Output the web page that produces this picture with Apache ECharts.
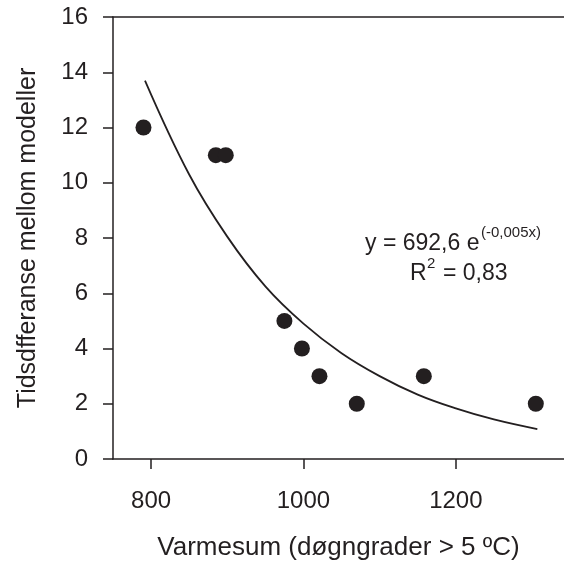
<!DOCTYPE html>
<html>
<head>
<meta charset="utf-8">
<title>Varmesum</title>
<script src="https://cdn.jsdelivr.net/npm/echarts@6/dist/echarts.min.js"></script>
<style>
	html,body{margin:0;padding:0;background:#fff;}
	#main{width:564px;height:563px;}
</style>
</head>
<body>
<div id="main"></div>
<script>
	// punkter (varmesum, tidsdifferanse)
	var pointX = [790, 885, 898, 975, 998, 1021, 1070, 1158, 1305];
	var pointY = [12, 11, 11, 5, 4, 3, 2, 3, 2];

	// kurven lest av figuren
	var curveX = [792, 850, 900, 950, 1000, 1050, 1100, 1150, 1200, 1250, 1307];
	var curveY = [13.7, 10.3, 8.05, 6.25, 4.9, 3.83, 3.0, 2.33, 1.83, 1.43, 1.08];

	var xTicks = [800, 1000, 1200];
	var yTicks = [0, 2, 4, 6, 8, 10, 12, 14, 16];

	var ink = '#231f20';
	var font = '"Liberation Sans", Arial, sans-serif';

	function pairs(xs, ys){
		var out = [];
		for(var i=0;i<xs.length;i++){
			out.push([xs[i], ys[i]]);
		}
		return out;
	}

	var chart = echarts.init(document.getElementById('main'));
	var option = {
		animation: false,
		backgroundColor: '#fff',
		grid: {
			left: 113,
			top: 17,
			right: 0,
			bottom: 104,
			outerBoundsMode: 'none'
		},
		xAxis: [
			{
				type: 'value',
				min: 750,
				max: 1342,
				name: 'Varmesum (døgngrader > 5 ºC)',
				nameLocation: 'middle',
				nameGap: 76,
				nameTextStyle: {color: ink, fontSize: 26, fontFamily: font},
				axisLine: {show: true, onZero: false, lineStyle: {color: ink, width: 1.5}},
				axisTick: {show: true, inside: false, length: 10, customValues: xTicks, lineStyle: {color: ink, width: 1.5}},
				axisLabel: {
					color: ink, fontSize: 24, fontFamily: font, margin: 30, customValues: xTicks,
					formatter: function(v){ return String(v); }
				},
				splitLine: {show: false}
			},
			{
				// linja over plottet
				type: 'value',
				position: 'top',
				min: 750,
				max: 1342,
				axisLine: {show: true, onZero: false, lineStyle: {color: ink, width: 1.5}},
				axisTick: {show: false},
				axisLabel: {show: false},
				splitLine: {show: false}
			}
		],
		yAxis: {
			type: 'value',
			min: yTicks[0],
			max: yTicks[yTicks.length-1],
			interval: 2,
			name: 'Tidsdfferanse mellom modeller',
			nameLocation: 'middle',
			nameGap: 72,
			nameTextStyle: {color: ink, fontSize: 25, fontFamily: font},
			axisLine: {show: true, onZero: false, lineStyle: {color: ink, width: 1.5}},
			axisTick: {show: true, inside: false, length: 10, lineStyle: {color: ink, width: 1.5}},
			axisLabel: {color: ink, fontSize: 24, fontFamily: font, margin: 25},
			splitLine: {show: false}
		},
		series: [
			{
				type: 'line',
				data: pairs(curveX, curveY),
				smooth: 0.4,
				showSymbol: false,
				lineStyle: {color: ink, width: 1.8},
				z: 2
			},
			{
				type: 'scatter',
				data: pairs(pointX, pointY),
				symbol: 'circle',
				symbolSize: 16,
				itemStyle: {color: ink, opacity: 1},
				z: 3
			}
		],
		graphic: [
			{type: 'text', left: 365, top: 232, style: {text: 'y = 692,6 e', fill: ink, font: '23px ' + font}},
			{type: 'text', left: 481, top: 225, style: {text: '(-0,005x)', fill: ink, font: '15px ' + font}},
			{type: 'text', left: 410, top: 262, style: {text: 'R', fill: ink, font: '23px ' + font}},
			{type: 'text', left: 427, top: 256, style: {text: '2', fill: ink, font: '15px ' + font}},
			{type: 'text', left: 443, top: 262, style: {text: '= 0,83', fill: ink, font: '23px ' + font}}
		]
	};
	chart.setOption(option);
</script>
</body>
</html>
